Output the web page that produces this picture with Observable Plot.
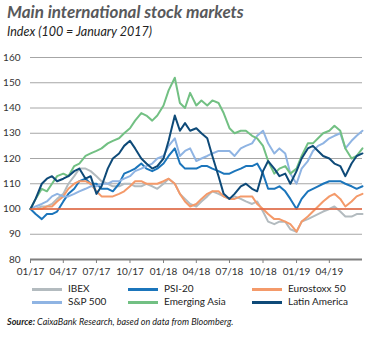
<!DOCTYPE html>
<html><head><meta charset="utf-8">
<script src="https://cdn.jsdelivr.net/npm/d3@7"></script>
<script src="https://cdn.jsdelivr.net/npm/@observablehq/plot@0.6"></script>
<style>
body{margin:0;background:#fff;font-family:Lato,"Open Sans",sans-serif;}
#wrap{position:relative;width:376px;height:338px;overflow:hidden;}
.t{position:absolute;white-space:nowrap;}
#title{left:7px;top:1px;font-size:17px;font-weight:bold;font-style:italic;color:#58595b;}
#sub{left:7px;top:24px;font-size:12.5px;font-style:italic;color:#222;}
#chart{position:absolute;left:0;top:48px;}
.lg{position:absolute;font-size:10px;color:#222;}
.sw{position:absolute;height:3px;width:30px;}
#src{left:7px;top:316px;font-size:9px;font-style:italic;color:#222;}
</style></head>
<body><div id="wrap">
<div id="title" class="t">Main international stock markets</div>
<div id="sub" class="t">Index (100 = January 2017)</div>
<div id="chart"></div>
<div id="legend"></div>
<div id="src" class="t"><b>Source:</b> CaixaBank Research, based on data from Bloomberg.</div>
</div>
<script>
const dates = ["2017-01-01","2017-01-15","2017-02-01","2017-02-15","2017-03-01","2017-03-15","2017-04-01","2017-04-15","2017-05-01","2017-05-15","2017-06-01","2017-06-15","2017-07-01","2017-07-15","2017-08-01","2017-08-15","2017-09-01","2017-09-15","2017-10-01","2017-10-15","2017-11-01","2017-11-15","2017-12-01","2017-12-15",
"2018-01-01","2018-01-15","2018-02-01","2018-02-15","2018-03-01","2018-03-15","2018-04-01","2018-04-15","2018-05-01","2018-05-15","2018-06-01","2018-06-15","2018-07-01","2018-07-15","2018-08-01","2018-08-15","2018-09-01","2018-09-15","2018-10-01","2018-10-15","2018-11-01","2018-11-15","2018-12-01","2018-12-15",
"2019-01-01","2019-01-15","2019-02-01","2019-02-15","2019-03-01","2019-03-15","2019-04-01","2019-04-15","2019-05-01","2019-05-15","2019-06-01","2019-06-15","2019-07-01"];

const seriesNames = ["IBEX","PSI-20","Eurostoxx 50","S&P 500","Emerging Asia","Latin America"];
const seriesColors = ["#b3bbbf","#1b75bb","#f49a6a","#8fb4e3","#72c083","#0e4a78"];

const ibex = [100,100,101,101,102,104,106,110,113,116,116,115,113,111,110,109,109,110,110,109,109,110,109,108,
110,112,110,106,104,102,101,103,105,107,106,105,104,105,104,103,102,103,99,95,94,95,95,92,
91,95,96,97,98,99,100,101,99,97,97,98,98];
const psi20 = [100,98,96,98,98,99,103,106,108,111,112,110,110,108,108,107,110,114,115,116,118,116,115,116,
118,121,124,118,116,116,116,117,117,116,115,114,114,115,116,117,117,118,114,108,108,109,107,104,
100,104,107,108,109,110,111,111,111,110,109,108,109];
const eurostoxx = [100,100,100,101,101,103,105,108,110,111,111,110,107,105,105,105,106,107,109,111,111,110,110,110,
111,112,110,106,103,101,102,104,106,107,107,105,104,104,105,105,105,102,100,98,96,96,95,94,
91,95,97,99,101,103,105,106,104,101,103,105,106];
const sp500 = [100,101,102,103,105,106,105,105,106,107,108,109,109,110,110,111,111,112,113,115,116,117,118,120,
121,125,128,121,123,124,119,120,121,122,123,123,123,121,124,125,126,129,131,126,122,124,122,114,
110,116,119,123,125,126,128,129,130,124,127,129,131];
const emAsia = [100,104,108,107,110,113,114,113,117,118,121,122,123,124,126,127,128,130,132,135,138,137,135,137,
141,147,152,142,140,146,141,143,141,143,142,138,132,130,131,131,129,128,125,119,114,116,117,114,
116,121,126,126,128,130,131,133,131,124,120,121,124];
const latam = [100,104,110,112,113,111,112,113,115,116,112,113,106,109,116,120,122,125,127,124,120,118,116,117,
120,127,137,131,134,131,132,130,128,121,113,106,104,106,109,110,108,107,115,119,116,113,114,110,
115,120,124,125,123,121,120,118,117,113,118,121,122];

const yTicks = [80,90,100,110,120,130,140,150,160];
const xTickDates = ["2017-01-01","2017-04-01","2017-07-01","2017-10-01","2018-01-01","2018-04-01","2018-07-01","2018-10-01","2019-01-01","2019-04-01"];
const baseline = 100;

const allSeries = [ibex, psi20, eurostoxx, sp500, emAsia, latam];
const rows = [];
allSeries.forEach((vals, k) => vals.forEach((v, i) => rows.push({date: new Date(dates[i]), value: v, name: seriesNames[k]})));
const xt = xTickDates.map(d => new Date(d));
const fmt = d3.utcFormat("%m/%y");

const chart = Plot.plot({
  width: 376, height: 232,
  marginTop: 9, marginBottom: 21, marginLeft: 30, marginRight: 14,
  style: {fontFamily: "Lato, 'Open Sans', sans-serif", fontSize: "10px", color: "#333", background: "transparent"},
  x: {type: "utc", domain: [new Date("2017-01-01"), new Date("2019-07-01")]},
  y: {domain: [80, 160]},
  color: {domain: seriesNames, range: seriesColors},
  marks: [
    Plot.ruleY(yTicks.filter(t => t > 80), {stroke: "#a6a6a6", strokeWidth: 1}),
    Plot.lineY(rows, {x: "date", y: "value", z: "name", stroke: "name", strokeWidth: 2, curve: "linear"}),
    Plot.ruleY([baseline], {stroke: "#e8643c", strokeWidth: 1.6}),
    Plot.ruleY([80], {stroke: "#7f7f7f", strokeWidth: 2}),
    Plot.axisY({ticks: yTicks, tickSize: 0, tickPadding: 10, label: null, fill: "#333"}),
    Plot.axisX({ticks: xt, tickFormat: fmt, tickSize: 4, tickPadding: 4, label: null, stroke: "#7f7f7f", fill: "#333"})
  ]
});
document.getElementById("chart").appendChild(chart);

const leg = document.getElementById("legend");
const colX = [32, 128, 252];
const rowY = [289, 302];
seriesNames.forEach((n, k) => {
  const c = k % 3, r = Math.floor(k / 3);
  const sw = document.createElement("div");
  sw.className = "sw";
  sw.style.left = colX[c] + "px"; sw.style.top = (rowY[r] - 1) + "px"; sw.style.background = seriesColors[k];
  leg.appendChild(sw);
  const t = document.createElement("div");
  t.className = "lg t";
  t.style.left = (colX[c] + 36) + "px"; t.style.top = (rowY[r] - 7) + "px";
  t.textContent = n;
  leg.appendChild(t);
});
</script>
</body></html>
